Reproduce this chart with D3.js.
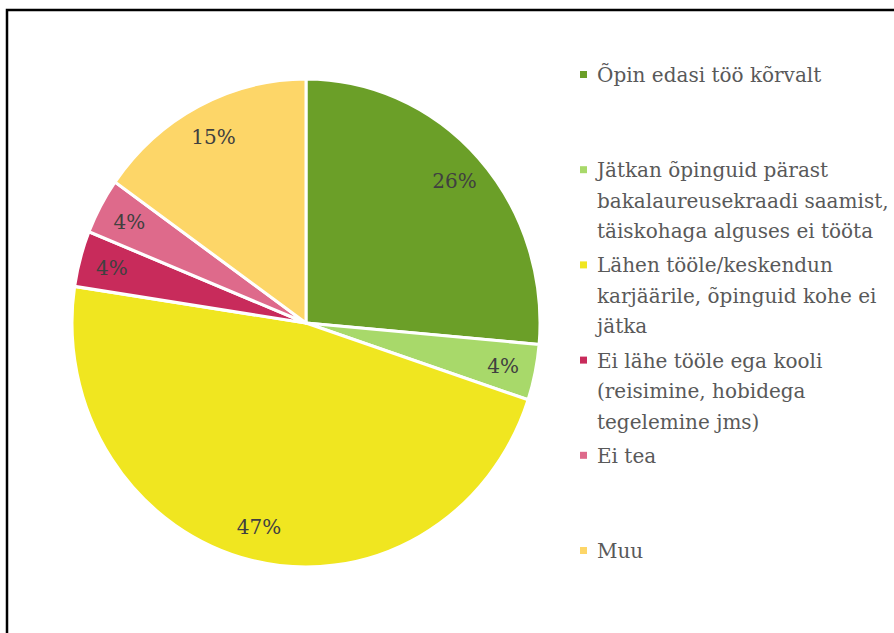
<!DOCTYPE html>
<html>
<head>
<meta charset="utf-8">
<script src="https://cdn.jsdelivr.net/npm/d3@7"></script>
<style>
  body { margin: 0; background: #fff; }
  svg { display: block; }
</style>
</head>
<body>
<div id="content"></div>
<script>
// categories and values
const CATEGORIES = [
    ['Õpin edasi töö kõrvalt'],
    ['Jätkan õpinguid pärast', 'bakalaureusekraadi saamist,', 'täiskohaga alguses ei tööta'],
    ['Lähen tööle/keskendun', 'karjäärile, õpinguid kohe ei', 'jätka'],
    ['Ei lähe tööle ega kooli', '(reisimine, hobidega', 'tegelemine jms)'],
    ['Ei tea'],
    ['Muu']
];
const VALUES = [26.4, 3.7, 47.3, 3.7, 3.7, 15.2];
const COLORS = ['#6b9f28', '#a8d96a', '#f0e620', '#c82b5b', '#de6a8b', '#fdd668'];

var SERIF = "'DejaVu Serif', serif";

var width = 894;
var height = 633;

var cx = 306, cy = 323;
var rx = 234, ry = 244;
var squash = ry / rx;

var svg = d3.select('#content')
.append('svg')
.attr('width', width)
.attr('height', height)
.attr('font-family', SERIF);

// frame
svg.append('rect')
.attr('x', 7)
.attr('y', 10)
.attr('width', 940)
.attr('height', 700)
.attr('fill', 'none')
.attr('stroke', '#000')
.attr('stroke-width', 2.5);

var pie = d3.pie()
.sort(null)
.value(function (d) {return d;});

var arcs = pie(VALUES);

var arc = d3.arc()
.innerRadius(0)
.outerRadius(rx);

var labelArc = d3.arc()
.innerRadius(rx * 0.86)
.outerRadius(rx * 0.86);

var pieG = svg.append('g')
.attr('transform', `translate(${cx}, ${cy}) scale(1, ${squash})`);

pieG.selectAll('path')
.data(arcs)
.enter()
.append('path')
.attr('d', arc)
.attr('fill', function (d, i) {return COLORS[i];})
.attr('stroke', '#fff')
.attr('stroke-width', 3)
.attr('stroke-linejoin', 'round');

svg.selectAll('.slice-label')
.data(arcs)
.enter()
.append('text')
.attr('class', 'slice-label')
.attr('x', function (d) {return cx + labelArc.centroid(d)[0];})
.attr('y', function (d) {return cy + labelArc.centroid(d)[1] * squash + 7;})
.attr('text-anchor', 'middle')
.attr('font-size', 20)
.attr('fill', '#404040')
.text(function (d) {return Math.round(d.value) + '%';});

// legend
var legendY = d3.scaleLinear()
.domain([0, 1])
.range([82, 82 + 95.2]);

var legend = svg.selectAll('.legend-item')
.data(CATEGORIES)
.enter()
.append('g')
.attr('class', 'legend-item')
.attr('transform', function (d, i) {return `translate(0, ${legendY(i)})`;});

legend.append('rect')
.attr('x', 580)
.attr('y', -11)
.attr('width', 7)
.attr('height', 7)
.attr('fill', function (d, i) {return COLORS[i];});

legend.append('text')
.attr('x', 597)
.attr('y', 0)
.attr('font-size', 20)
.attr('fill', '#595959')
.selectAll('tspan')
.data(function (d) {return d;})
.enter()
.append('tspan')
.attr('x', 597)
.attr('y', function (d, j) {return j * 30.5;})
.text(function (d) {return d;});
</script>
</body>
</html>
